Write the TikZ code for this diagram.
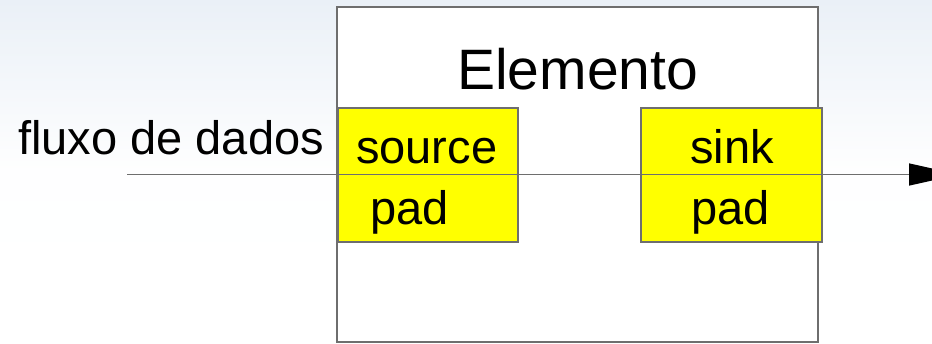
\documentclass[tikz,border=0pt]{standalone}
\usepackage{fontspec}
\setmainfont{Liberation Sans}
\usetikzlibrary{arrows.meta}
\definecolor{padyellow}{RGB}{255,255,0}
\definecolor{edgegray}{RGB}{110,110,110}
\definecolor{bgblue}{RGB}{234,240,247}
\tikzset{
  mainbox/.style={draw=edgegray, line width=1.2pt, fill=white, inner sep=0pt, minimum width=481pt, minimum height=335pt},
  padbox/.style={draw=edgegray, line width=1.2pt, fill=padyellow, inner sep=0pt, minimum height=134pt},
  flowline/.style={draw=edgegray, line width=1.4pt, -{Triangle[length=50pt,width=22pt,fill=black,color=black]}},
  bigtext/.style={inner sep=0pt, anchor=base west, font=\fontsize{47}{50}\selectfont},
  titletext/.style={inner sep=0pt, anchor=base west, font=\fontsize{57}{60}\selectfont}
}
\begin{document}
\begin{tikzpicture}[x=1pt,y=-1pt]
\useasboundingbox (0,0) rectangle (932,343);
\shade[top color=bgblue, bottom color=white, middle color=white!96!bgblue] (0,0) rectangle (932,343);
\node[mainbox] (elem) at (577.5,174.5) {};
\node[padbox, minimum width=180pt] (srcbox) at (428,175) {};
\node[padbox, minimum width=181pt] (sinkbox) at (731.5,175) {};
\coordinate (flowstart) at (127,174.5);
\coordinate (flowend) at (959,174.5);
\draw[flowline] (flowstart) -- (flowend);
\node[titletext] (title) at (457,89) {Elemento};
\node[bigtext] (flux) at (18,154) {fluxo de dados};
\node[bigtext] (srctxt) at (356,163) {source};
\node[bigtext] (srcpad) at (370,224) {pad};
\node[bigtext] (sinktxt) at (690,163) {sink};
\node[bigtext] (sinkpad) at (691,224) {pad};
\end{tikzpicture}
\end{document}
